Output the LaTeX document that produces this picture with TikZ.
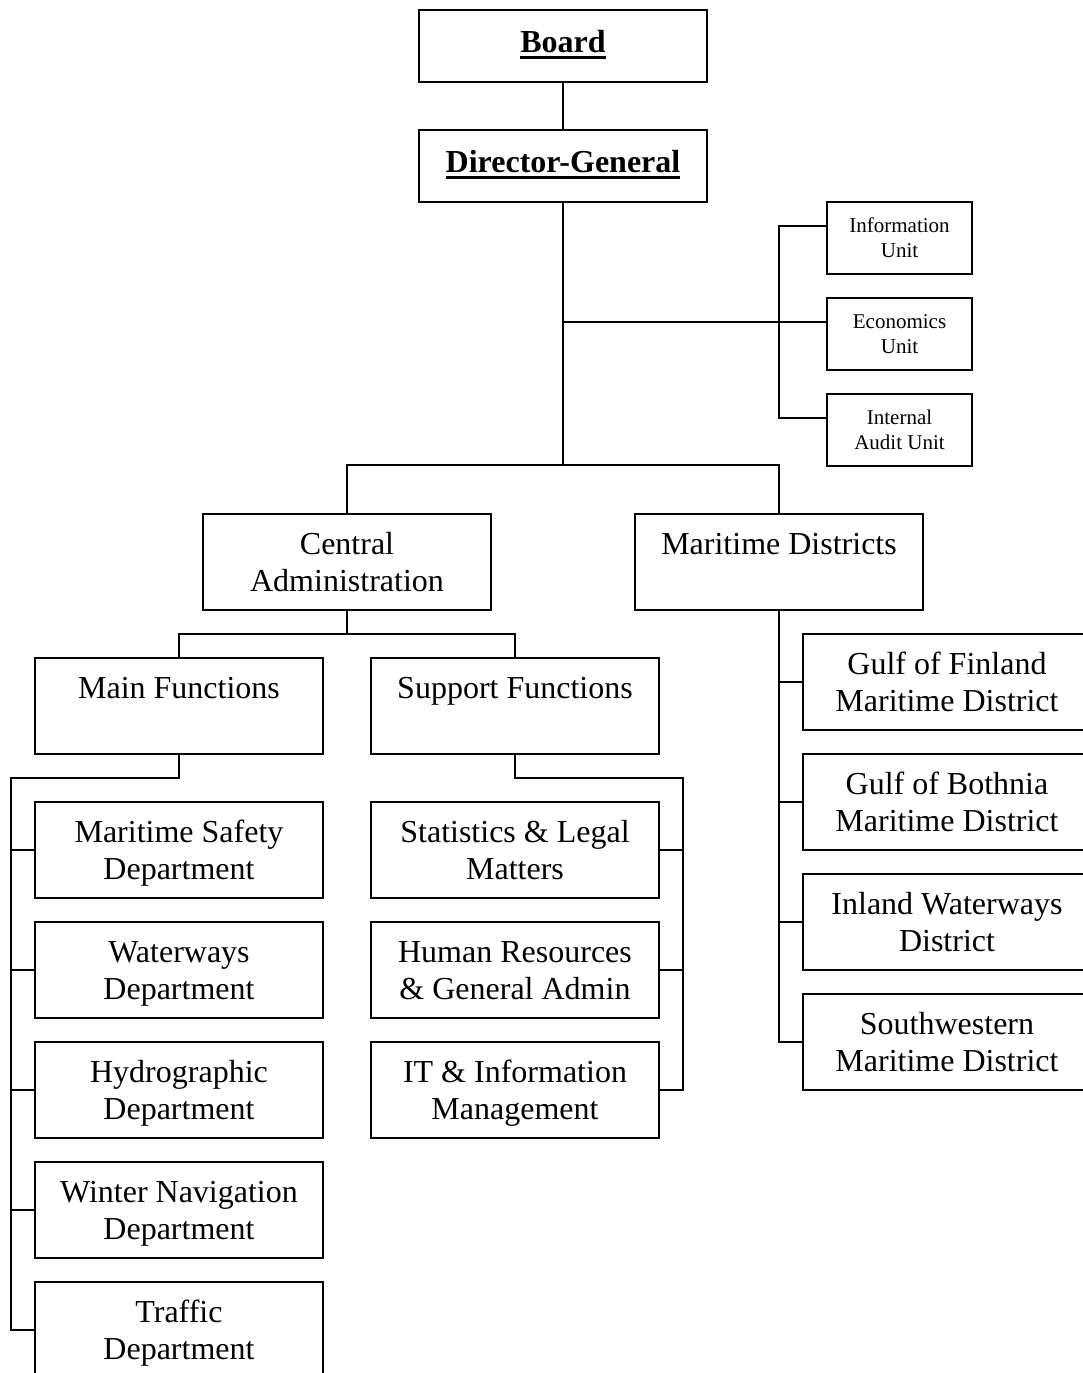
\documentclass[tikz,border=0pt]{standalone}
\usepackage{fontspec}
\usetikzlibrary{calc}
\setmainfont{Liberation Serif}
\newcommand\bigtext{\fontsize{32}{37}\selectfont}
\newcommand\smalltext{\fontsize{21}{25}\selectfont}
% line struts that fix the baseline positions inside the boxes
\newcommand\bigstrut{\rule[-8pt]{0pt}{37pt}}
\newcommand\smallstrut{\rule[-6pt]{0pt}{25pt}}
\newcommand\headstrut{\rule[-10pt]{0pt}{32pt}}
% bold title with a heavy underline
\newcommand\boldul[1]{\setbox0\hbox{\textbf{#1}}\rlap{\usebox0}\rule[-6.5pt]{\wd0}{2.6pt}\headstrut}
\tikzset{
  unitbox/.style={draw, line width=1.6pt, inner sep=0pt, align=center,
    minimum width=288, minimum height=96, font=\bigtext},
  headbox/.style={unitbox, minimum height=72},
  smallbox/.style={draw, line width=1.6pt, inner sep=0pt, align=center,
    minimum width=145, minimum height=72, font=\smalltext},
  link/.style={line width=1.6pt}
}
\begin{document}
\begin{tikzpicture}[x=1pt,y=-1pt]
\useasboundingbox (0,0) rectangle (1083,1373);
\clip (0,0) rectangle (1083,1373);
\fill[white] (0,0) rectangle (1083,1373);

% top of the hierarchy
\node[headbox] (board) at (563,46) {\boldul{Board}};
\node[headbox] (dg) at (563,166) {\boldul{Director-General}};

% staff units
\node[smallbox] (info) at (899.5,238) {Information\smallstrut\\Unit\smallstrut};
\node[smallbox] (econ) at (899.5,334) {Economics\smallstrut\\Unit\smallstrut};
\node[smallbox] (audit) at (899.5,430) {Internal\smallstrut\\Audit Unit\smallstrut};

% second level
\node[unitbox] (cadm) at (347,562) {Central\bigstrut\\Administration\bigstrut};
\node[unitbox] (md) at (779,562) {Maritime Districts\bigstrut\\\bigstrut};

% central administration
\node[unitbox] (mainf) at (179,706) {Main Functions\bigstrut\\\bigstrut};
\node[unitbox] (supf) at (515,706) {Support Functions\bigstrut\\\bigstrut};

% main functions
\node[unitbox] (msd) at (179,850) {Maritime Safety\bigstrut\\Department\bigstrut};
\node[unitbox] (wwd) at (179,970) {Waterways\bigstrut\\Department\bigstrut};
\node[unitbox] (hyd) at (179,1090) {Hydrographic\bigstrut\\Department\bigstrut};
\node[unitbox] (wnd) at (179,1210) {Winter Navigation\bigstrut\\Department\bigstrut};
\node[unitbox] (trd) at (179,1330) {Traffic\bigstrut\\Department\bigstrut};

% support functions
\node[unitbox] (slm) at (515,850) {Statistics \& Legal\bigstrut\\Matters\bigstrut};
\node[unitbox] (hrg) at (515,970) {Human Resources\bigstrut\\\& General Admin\bigstrut};
\node[unitbox] (itm) at (515,1090) {IT \& Information\bigstrut\\Management\bigstrut};

% maritime districts
\node[unitbox] (gof) at (947,682) {Gulf of Finland\bigstrut\\Maritime District\bigstrut};
\node[unitbox] (gob) at (947,802) {Gulf of Bothnia\bigstrut\\Maritime District\bigstrut};
\node[unitbox] (iwd) at (947,922) {Inland Waterways\bigstrut\\District\bigstrut};
\node[unitbox] (swd) at (947,1042) {Southwestern\bigstrut\\Maritime District\bigstrut};

% bus coordinates
\coordinate (split) at (563,465);
\coordinate (ux) at (779,0);
\coordinate (cbus) at (0,634);
\coordinate (lx) at (11,778);
\coordinate (rx) at (683,778);
% staff units are joined a little above their middles
\coordinate (infoin) at ($(info.west)+(0,-12)$);
\coordinate (econin) at ($(econ.west)+(0,-12)$);
\coordinate (auditin) at ($(audit.west)+(0,-12)$);

% connectors
\draw[link] (board) -- (dg);
\draw[link] (dg.south) -- (split);
\draw[link] (cadm.north) -- (cadm.north |- split) -- (md.north |- split) -- (md.north);
\draw[link] (dg.south |- econin) -- (econin);
\draw[link] (infoin) -| (ux |- auditin) -- (auditin);

\draw[link] (cadm.south) -- (cadm.south |- cbus);
\draw[link] (mainf.north) -- (mainf.north |- cbus) -- (supf.north |- cbus) -- (supf.north);

\draw[link] (mainf.south) -- (mainf.south |- lx) -- (lx) |- (trd.west);
\foreach \d in {msd,wwd,hyd,wnd}
  \draw[link] (lx |- \d.west) -- (\d.west);

\draw[link] (supf.south) -- (supf.south |- rx) -- (rx) |- (itm.east);
\foreach \d in {slm,hrg}
  \draw[link] (rx |- \d.east) -- (\d.east);

\draw[link] (md.south) |- (swd.west);
\foreach \d in {gof,gob,iwd}
  \draw[link] (md.south |- \d.west) -- (\d.west);
\end{tikzpicture}
\end{document}
